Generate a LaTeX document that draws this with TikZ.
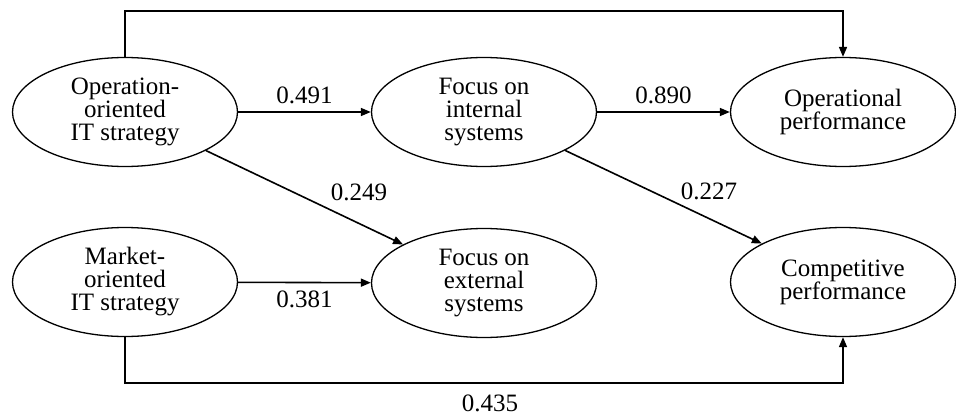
\documentclass[tikz,border=0pt]{standalone}
\usepackage{fontspec}
\setmainfont{Liberation Serif}
\usetikzlibrary{shapes.geometric,arrows.meta}

\begin{document}
\begin{tikzpicture}[x=1pt,y=-1pt,
        var/.style={ellipse,draw,line width=1.3pt,minimum width=225pt,minimum height=109pt,
            inner sep=0pt,align=center,font=\fontsize{25}{23}\selectfont},
        coef/.style={font=\fontsize{25}{25}\selectfont,inner sep=1pt},
        path/.style={line width=1.6pt,-{Triangle[length=10pt,width=8pt]}}]
        \useasboundingbox (0,0) rectangle (956,415);

        \node[var] (opit) at (125,112) {Operation-\\oriented\\IT strategy};
        \node[var] (intsys) at (484,112) {Focus on\\internal\\systems};
        \node[var] (opperf) at (843,112) {Operational\\performance};
        \node[var] (mkit) at (125,282) {Market-\\oriented\\IT strategy};
        \node[var] (extsys) at (484,283) {Focus on\\external\\systems};
        \node[var] (compperf) at (843,282) {Competitive\\performance};

        \draw[path] (opit) -- (intsys) node[coef,midway,above=6pt] (c491) {0.491};
        \draw[path] (intsys) -- (opperf) node[coef,midway,above=6pt] (c890) {0.890};
        \draw[path] (mkit) -- (extsys) node[coef,midway,below=7pt] (c381) {0.381};
        \draw[path] (opit) -- (extsys);
        \draw[path] (intsys) -- (compperf);
        \node[coef] (c249) at (359,192) {0.249};
        \node[coef] (c227) at (709,191) {0.227};

        % direct paths round the outside
        \draw[path] (opit.north) -- ++(0,-46) -| (opperf.north);
        \draw[path] (mkit.south) -- ++(0,46) -| (compperf.south);
        \node[coef] (c435) at (490,403) {0.435};
    \end{tikzpicture}
\end{document}
